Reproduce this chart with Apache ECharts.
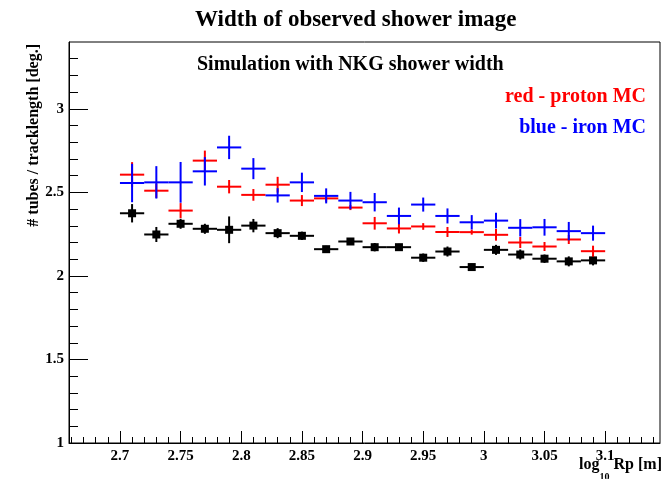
<!DOCTYPE html>
<html><head><meta charset="utf-8">
<script src="https://cdn.jsdelivr.net/npm/echarts@6/dist/echarts.min.js"></script>
<style>html,body{margin:0;padding:0;background:#fff}#c{width:670px;height:479px}</style>
</head><body><div id="c"></div><script>
const binCenters = [2.71,2.73,2.75,2.77,2.79,2.81,2.83,2.85,2.87,2.89,2.91,2.93,2.95,2.97,2.99,3.01,3.03,3.05,3.07,3.09];
const binHalfWidth = 0.01;
const dataValues = [2.375,2.248,2.312,2.282,2.276,2.301,2.256,2.240,2.160,2.206,2.172,2.172,2.109,2.146,2.053,2.156,2.128,2.103,2.087,2.093];
const dataErrors = [0.055,0.045,0.03,0.03,0.08,0.04,0.03,0.025,0.02,0.015,0.025,0.02,0.025,0.03,0.02,0.03,0.03,0.025,0.03,0.03];
const protonValues = [2.606,2.510,2.391,2.690,2.534,2.485,2.546,2.451,2.464,2.409,2.315,2.284,2.296,2.263,2.262,2.246,2.200,2.176,2.218,2.148];
const protonErrors = [0.075,0.043,0.045,0.06,0.04,0.035,0.047,0.033,0.02,0.015,0.038,0.03,0.02,0.03,0.015,0.035,0.033,0.027,0.027,0.033];
const ironValues = [2.556,2.560,2.560,2.626,2.769,2.642,2.482,2.560,2.479,2.451,2.441,2.359,2.427,2.359,2.321,2.331,2.288,2.291,2.268,2.256];
const ironErrors = [0.115,0.097,0.122,0.085,0.07,0.063,0.043,0.058,0.045,0.052,0.055,0.05,0.042,0.045,0.043,0.047,0.052,0.05,0.055,0.045];
const xTickLabels = [2.7,2.75,2.8,2.85,2.9,2.95,3,3.05,3.1];
const yTickLabels = [1,1.5,2,2.5,3];
const xMinorTicks = [];
for (let i = 266; i <= 314; i++) xMinorTicks.push(i / 100);
const yMinorTicks = [];
for (let i = 11; i <= 33; i++) yMinorTicks.push(i / 10);

const FONT = 'Liberation Serif';
const chart = echarts.init(document.getElementById('c'), null, {renderer: 'canvas'});

function errorBarSeries(name, values, errors, color, withSquare) {
  return {
    type: 'custom', name: name, xAxisIndex: 0, yAxisIndex: 0,
    data: binCenters.map((x, i) => [x, values[i], errors[i]]),
    encode: {x: 0, y: 1},
    renderItem: function (params, api) {
      const x = api.value(0), y = api.value(1), e = api.value(2);
      const l = api.coord([x - binHalfWidth, y]);
      const r = api.coord([x + binHalfWidth, y]);
      const t = api.coord([x, y + e]);
      const b = api.coord([x, y - e]);
      const c = api.coord([x, y]);
      const st = {stroke: color, lineWidth: 2};
      const ch = [
        {type: 'line', shape: {x1: l[0], y1: l[1], x2: r[0], y2: r[1]}, style: st},
        {type: 'line', shape: {x1: t[0], y1: t[1], x2: b[0], y2: b[1]}, style: st}
      ];
      if (withSquare) ch.push({type: 'rect', shape: {x: c[0] - 4, y: c[1] - 4, width: 8, height: 8}, style: {fill: color}});
      return {type: 'group', children: ch};
    }
  };
}

const labelStyle = {fontFamily: FONT, fontWeight: 'bold', fontSize: 15, color: '#000'};

chart.setOption({
  animation: false,
  backgroundColor: '#fff',
  title: [
    {text: 'Width of observed shower image', left: 195, top: 9, padding: 0,
     textStyle: {fontFamily: FONT, fontWeight: 'bold', fontSize: 23, color: '#000'}},
    {text: 'Simulation with NKG shower width', left: 197, top: 55, padding: 0,
     textStyle: {fontFamily: FONT, fontWeight: 'bold', fontSize: 20, color: '#000'}},
    {text: 'red - proton MC', right: 24, top: 87, padding: 0,
     textStyle: {fontFamily: FONT, fontWeight: 'bold', fontSize: 20, color: '#ff0000'}},
    {text: 'blue - iron MC', right: 24, top: 118, padding: 0,
     textStyle: {fontFamily: FONT, fontWeight: 'bold', fontSize: 20, color: '#0000ff'}}
  ],
  grid: {left: 69, right: 10, top: 42, bottom: 36, show: true, borderColor: '#000', borderWidth: 1,
         backgroundColor: 'transparent', containLabel: false, outerBoundsMode: 'none'},
  xAxis: [
    {type: 'value', min: 2.658, max: 3.1452, position: 'bottom',
     name: '{n|log}{s|10}{n| Rp [m]}', nameLocation: 'end', nameGap: 2, nameMoveOverlap: false,
     nameTextStyle: {align: 'right', verticalAlign: 'top', padding: [14, 0, 0, 0],
       rich: {n: {fontFamily: FONT, fontWeight: 'bold', fontSize: 16, color: '#000', lineHeight: 16, verticalAlign: 'top'},
              s: {fontFamily: FONT, fontWeight: 'bold', fontSize: 10, color: '#000', lineHeight: 10, padding: [15, 0, 0, 0], verticalAlign: 'top'}}},
     axisLine: {show: true, lineStyle: {color: '#000', width: 1}},
     axisTick: {show: true, inside: true, length: 12, customValues: xTickLabels, lineStyle: {color: '#000', width: 1}},
     axisLabel: {show: true, customValues: xTickLabels, margin: 6, ...labelStyle},
     splitLine: {show: false}},
    {type: 'value', min: 2.658, max: 3.1452, position: 'bottom',
     axisLine: {show: false},
     axisTick: {show: true, inside: true, length: 6, customValues: xMinorTicks, lineStyle: {color: '#000', width: 1}},
     axisLabel: {show: false},
     splitLine: {show: false}}
  ],
  yAxis: [
    {type: 'value', min: 1, max: 3.4, position: 'left',
     name: '# tubes / tracklength [deg.]', nameLocation: 'end', nameRotate: 90, nameGap: -2, nameMoveOverlap: false,
     nameTextStyle: {fontFamily: FONT, fontWeight: 'bold', fontSize: 16, color: '#000', align: 'right', verticalAlign: 'bottom', padding: [0, 0, 27, 0]},
     axisLine: {show: true, lineStyle: {color: '#000', width: 1}},
     axisTick: {show: true, inside: true, length: 19, customValues: yTickLabels, lineStyle: {color: '#000', width: 1}},
     axisLabel: {show: true, customValues: yTickLabels, margin: 5, ...labelStyle},
     splitLine: {show: false}},
    {type: 'value', min: 1, max: 3.4, position: 'left',
     axisLine: {show: false},
     axisTick: {show: true, inside: true, length: 9, customValues: yMinorTicks, lineStyle: {color: '#000', width: 1}},
     axisLabel: {show: false},
     splitLine: {show: false}}
  ],
  series: [
    errorBarSeries('data', dataValues, dataErrors, '#000000', true),
    errorBarSeries('red - proton MC', protonValues, protonErrors, '#ff0000', false),
    errorBarSeries('blue - iron MC', ironValues, ironErrors, '#0000ff', false)
  ]
});
</script></body></html>
